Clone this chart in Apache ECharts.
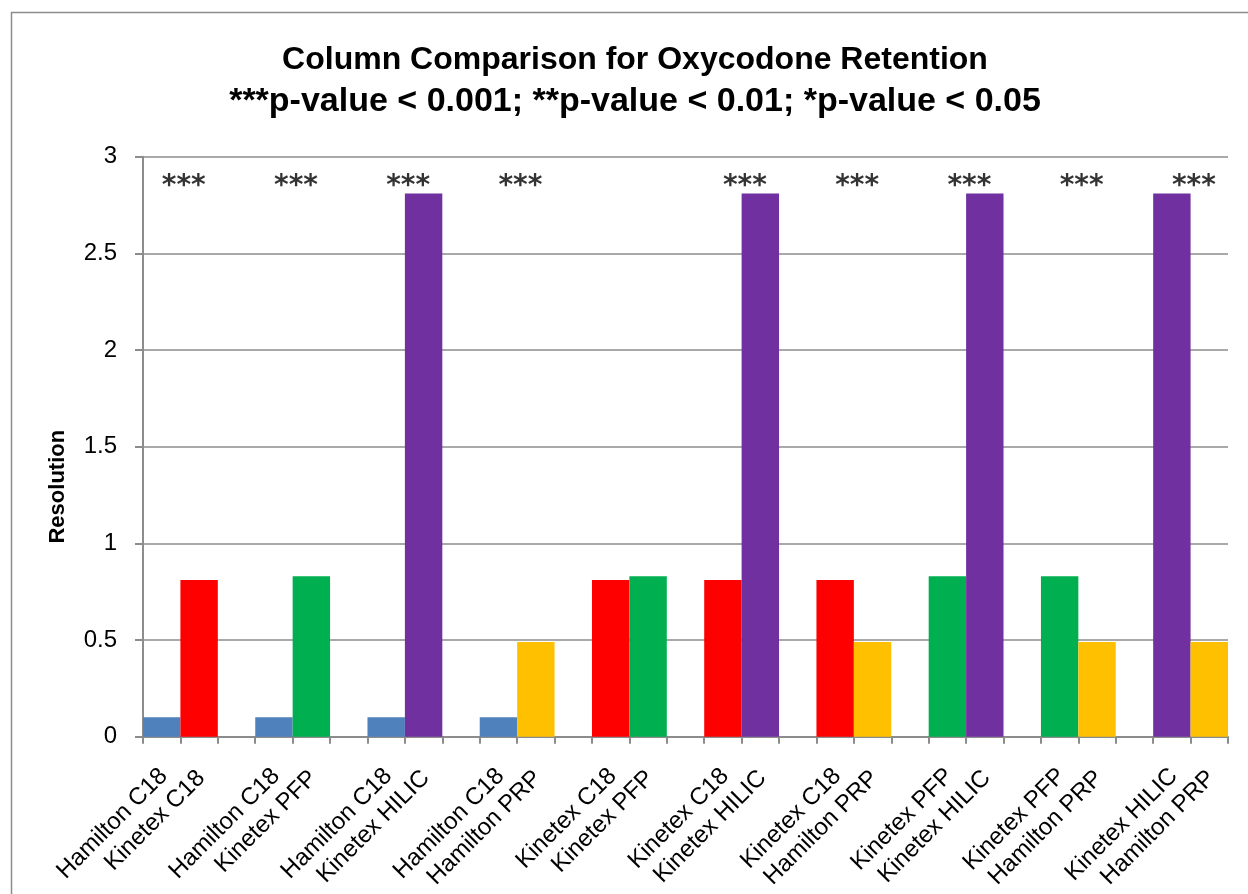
<!DOCTYPE html>
<html>
<head>
<meta charset="utf-8">
<script src="https://cdn.jsdelivr.net/npm/echarts@6/dist/echarts.min.js"></script>
<style>
  html, body { margin: 0; padding: 0; background: #fff; overflow: hidden; }
  #chart { width: 1248px; height: 894px; }
</style>
</head>
<body>
<div id="chart"></div>
<script>
// ---- Data ----
const leftColumns  = ['Hamilton C18', 'Hamilton C18', 'Hamilton C18', 'Hamilton C18', 'Kinetex C18', 'Kinetex C18', 'Kinetex C18', 'Kinetex PFP', 'Kinetex PFP', 'Kinetex HILIC'];
const rightColumns = ['Kinetex C18', 'Kinetex PFP', 'Kinetex HILIC', 'Hamilton PRP', 'Kinetex PFP', 'Kinetex HILIC', 'Hamilton PRP', 'Kinetex HILIC', 'Hamilton PRP', 'Hamilton PRP'];
const leftValues   = [0.10, 0.10, 0.10, 0.10, 0.81, 0.81, 0.81, 0.83, 0.83, 2.81];
const rightValues  = [0.81, 0.83, 2.81, 0.49, 0.83, 2.81, 0.49, 2.81, 0.49, 0.49];
const significance = ['***', '***', '***', '***', '', '***', '***', '***', '***', '***'];
const yMin = 0, yMax = 3, yStep = 0.5;
const titleLine1 = 'Column Comparison for Oxycodone Retention';
const titleLine2 = '***p-value < 0.001; **p-value < 0.01; *p-value < 0.05';
const yAxisName = 'Resolution';

// ---- Styles ----
const columnColors = {
  'Hamilton C18': '#4F81BD',
  'Kinetex C18': '#FF0000',
  'Kinetex PFP': '#00B050',
  'Kinetex HILIC': '#7030A0',
  'Hamilton PRP': '#FFC000'
};
const FONT = 'Liberation Sans';
const AXIS_GRAY = '#8c8c8c';

// ---- Build slots: left bar, right bar, empty gap ----
const slotNames = [];
const barData = [];
const labelTexts = [];
for (let i = 0; i < leftColumns.length; i++) {
  slotNames.push(leftColumns[i] + ' | ' + rightColumns[i] + ' L');
  barData.push({ value: leftValues[i], itemStyle: { color: columnColors[leftColumns[i]] } });
  labelTexts.push('');
  slotNames.push(leftColumns[i] + ' | ' + rightColumns[i] + ' R');
  barData.push({ value: rightValues[i], itemStyle: { color: columnColors[rightColumns[i]] } });
  labelTexts.push('{a|' + leftColumns[i] + '}\n{b|' + rightColumns[i] + '}');
  if (i < leftColumns.length - 1) {
    slotNames.push('gap ' + i);
    barData.push('-');
    labelTexts.push('');
  }
}
const starData = [];
for (let i = 0; i < significance.length; i++) {
  if (significance[i]) starData.push({ value: [slotNames[3 * i], yMax], label: { formatter: significance[i] } });
}

const el = document.getElementById('chart');
const chart = echarts.init(el, null, { renderer: 'canvas' });
chart.setOption({
  backgroundColor: '#ffffff',
  animation: false,
  title: [
    { text: titleLine1, left: 630, top: 35, textAlign: 'center',
      textStyle: { fontFamily: FONT, fontSize: 32, fontWeight: 'bold', color: '#000', lineHeight: 40 } },
    { text: titleLine2, left: 630, top: 77, textAlign: 'center',
      textStyle: { fontFamily: FONT, fontSize: 34, fontWeight: 'bold', color: '#000', lineHeight: 40 } }
  ],
  graphic: [
    { type: 'rect', silent: true, z: -10,
      shape: { x: 11.5, y: 12.5, width: 1300, height: 1000 },
      style: { fill: 'none', stroke: '#8c8c8c', lineWidth: 1.5 } }
  ],
  grid: { left: 143, right: 20, top: 156.7, bottom: 157.3, containLabel: false, outerBoundsMode: 'none' },
  xAxis: {
    type: 'category',
    data: slotNames,
    boundaryGap: true,
    axisLine: { show: true, lineStyle: { color: AXIS_GRAY, width: 2 } },
    axisTick: { show: true, interval: 0, length: 7, lineStyle: { color: AXIS_GRAY, width: 2 } },
    axisLabel: {
      interval: 0, rotate: 45, margin: 20,
      fontFamily: FONT, fontSize: 24, color: '#000',
      formatter: (v, idx) => labelTexts[idx],
      rich: {
        a: { fontFamily: FONT, fontSize: 24, color: '#000', lineHeight: 28, padding: [0, 36, 0, 0] },
        b: { fontFamily: FONT, fontSize: 24, color: '#000', lineHeight: 28, padding: [0, 11, 0, 0] }
      }
    },
    splitLine: { show: false }
  },
  yAxis: {
    type: 'value',
    min: yMin, max: yMax, interval: yStep,
    name: yAxisName,
    nameLocation: 'middle',
    nameRotate: 90,
    nameGap: 74,
    nameTextStyle: { fontFamily: FONT, fontSize: 22, fontWeight: 'bold', color: '#000', padding: [0, 80, 0, 0] },
    axisLine: { show: true, lineStyle: { color: AXIS_GRAY, width: 2 } },
    axisTick: { show: true, length: 8, lineStyle: { color: AXIS_GRAY, width: 2 } },
    axisLabel: { fontFamily: FONT, fontSize: 24, color: '#000', margin: 26 },
    splitLine: { show: true, lineStyle: { color: AXIS_GRAY, width: 1.5 } }
  },
  series: [
    {
      type: 'bar',
      data: barData,
      barCategoryGap: '0%',
      barWidth: '100%',
      z: 2
    },
    {
      type: 'scatter',
      data: starData,
      symbolSize: 0,
      silent: true,
      z: 5,
      label: {
        show: true, position: 'inside', offset: [22, 30],
        fontFamily: 'DejaVu Sans', fontSize: 28, fontWeight: 'bold', color: '#000'
      }
    }
  ]
});
</script>
</body>
</html>
